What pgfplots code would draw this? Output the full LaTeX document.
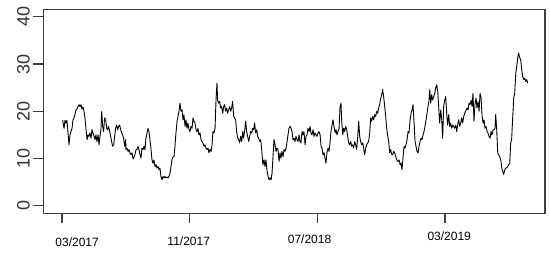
\documentclass[border=0pt]{standalone}
\usepackage{pgfplots}
\pgfplotsset{compat=1.18}
\usepackage{fontspec}
\setmainfont{Liberation Sans}

% x: months since 03/2017, y: value
\pgfplotstableread{
m v
0.04 18.1
0.13 16.4
0.19 18.1
0.25 17.5
0.31 18.1
0.38 15.4
0.44 12.9
0.50 15.0
0.56 15.7
0.63 16.4
0.69 18.2
0.75 18.6
0.81 19.3
0.88 20.3
0.94 20.5
1.00 21.0
1.07 21.4
1.13 21.0
1.19 21.4
1.25 20.5
1.32 20.9
1.38 20.0
1.44 18.6
1.50 16.4
1.57 14.0
1.63 15.0
1.69 14.7
1.75 15.4
1.82 14.3
1.88 16.1
1.94 15.4
2.01 14.7
2.07 14.0
2.13 15.0
2.19 13.6
2.26 15.0
2.32 12.9
2.38 14.7
2.44 16.1
2.49 20.0
2.55 16.8
2.61 15.7
2.67 18.6
2.74 18.2
2.80 16.4
2.86 16.1
2.92 16.8
2.99 15.7
3.05 14.7
3.11 13.6
3.17 12.6
3.24 12.9
3.30 14.7
3.36 16.4
3.43 17.1
3.49 16.1
3.55 16.8
3.61 17.1
3.68 16.1
3.74 15.4
3.80 15.0
3.86 14.3
3.93 12.6
3.99 14.0
4.01 11.9
4.07 12.2
4.14 11.5
4.20 11.9
4.26 11.2
4.32 10.8
4.39 11.2
4.45 9.9
4.51 10.3
4.57 10.8
4.64 11.9
4.70 11.9
4.76 12.6
4.82 11.9
4.89 10.8
4.95 10.1
5.01 12.2
5.08 11.9
5.14 12.6
5.20 11.9
5.26 14.3
5.33 15.4
5.39 16.4
5.45 15.7
5.51 14.0
5.58 11.9
5.64 9.7
5.70 9.0
5.76 9.7
5.83 8.3
5.89 8.7
5.95 8.0
6.02 8.3
6.08 7.6
6.14 8.0
6.20 6.2
6.27 5.5
6.33 6.2
6.39 5.9
6.45 6.2
6.52 5.9
6.58 6.1
6.64 5.9
6.70 6.2
6.77 6.9
6.83 8.3
6.89 9.7
6.95 10.3
7.02 10.4
7.08 12.6
7.14 15.4
7.21 17.9
7.27 18.9
7.33 20.0
7.39 21.7
7.46 20.0
7.52 20.3
7.58 18.2
7.64 19.3
7.71 16.8
7.77 18.2
7.83 16.4
7.89 17.5
7.96 16.1
8.02 15.7
8.08 16.8
8.15 16.4
8.21 18.6
8.27 17.9
8.33 17.5
8.40 16.1
8.46 15.7
8.52 16.4
8.58 15.0
8.65 15.4
8.71 14.0
8.77 13.6
8.83 13.3
8.90 12.6
8.96 12.9
9.02 12.2
9.09 11.9
9.15 12.2
9.21 11.2
9.27 11.9
9.34 11.5
9.40 12.9
9.46 15.7
9.52 15.4
9.59 16.4
9.65 22.4
9.71 26.0
9.75 22.4
9.82 21.7
9.88 22.1
9.94 20.7
10.00 21.0
10.07 19.6
10.13 21.0
10.19 21.4
10.25 20.0
10.32 20.7
10.38 19.6
10.44 20.3
10.51 21.0
10.57 20.0
10.63 20.7
10.69 22.1
10.76 18.9
10.82 18.6
10.88 18.2
10.94 15.7
11.01 14.3
11.07 14.0
11.13 13.3
11.19 14.7
11.26 13.6
11.32 15.7
11.38 14.3
11.45 16.1
11.51 17.9
11.57 15.7
11.63 14.7
11.70 13.6
11.76 14.7
11.82 15.7
11.88 15.4
11.95 16.4
12.01 16.1
12.07 17.5
12.13 15.4
12.20 16.1
12.26 14.7
12.32 14.3
12.39 13.6
12.45 14.0
12.51 11.9
12.59 8.7
12.66 9.7
12.72 8.3
12.78 9.7
12.84 7.6
12.91 6.2
12.97 5.5
13.03 5.9
13.10 5.5
13.16 6.9
13.22 10.4
13.28 14.0
13.35 12.9
13.41 11.5
13.47 12.2
13.53 11.9
13.60 9.4
13.66 11.2
13.72 10.1
13.78 11.5
13.85 10.4
13.91 11.9
13.97 11.5
14.04 12.2
14.10 13.6
14.16 15.0
14.22 16.4
14.29 16.8
14.35 16.4
14.41 15.7
14.47 14.0
14.54 14.3
14.60 13.6
14.66 14.7
14.72 14.0
14.79 13.6
14.85 15.0
14.91 13.6
14.97 13.3
15.04 15.7
15.10 15.0
15.16 15.7
15.23 12.9
15.29 14.7
15.35 15.0
15.41 16.4
15.48 15.7
15.54 16.8
15.60 15.4
15.66 15.0
15.73 16.1
15.79 14.7
15.85 15.4
15.91 15.0
15.98 14.7
16.04 15.4
16.10 15.7
16.17 15.0
16.23 12.6
16.29 12.2
16.35 10.8
16.42 11.2
16.48 10.1
16.54 9.0
16.60 11.2
16.67 12.2
16.73 11.5
16.79 13.3
16.85 15.7
16.92 17.1
16.98 18.2
17.04 16.8
17.11 15.4
17.17 16.1
17.23 15.0
17.29 15.7
17.36 16.4
17.42 21.0
17.48 21.7
17.52 18.2
17.59 15.0
17.65 16.4
17.71 15.7
17.77 16.8
17.84 16.1
17.90 14.7
17.96 13.3
18.02 12.9
18.09 13.6
18.15 12.6
18.21 12.9
18.27 12.2
18.34 13.6
18.40 12.9
18.46 11.9
18.53 14.7
18.59 17.9
18.65 14.7
18.71 13.6
18.78 12.9
18.84 13.3
18.90 12.2
18.96 10.8
19.03 12.2
19.09 12.9
19.15 13.3
19.21 13.6
19.28 15.4
19.34 18.6
19.40 17.9
19.47 18.9
19.53 18.2
19.59 19.3
19.65 18.9
19.72 20.0
19.78 19.6
19.84 20.7
19.90 21.4
19.97 22.8
20.03 23.5
20.09 24.6
20.15 23.1
20.22 21.0
20.28 18.9
20.34 16.4
20.41 14.7
20.47 13.6
20.53 11.2
20.59 11.9
20.66 10.8
20.72 10.8
20.78 11.5
20.84 11.2
20.91 10.4
20.97 9.7
21.03 9.4
21.05 9.4
21.12 9.7
21.18 8.7
21.24 9.0
21.30 7.6
21.37 10.4
21.43 12.6
21.49 12.2
21.55 12.9
21.62 14.0
21.68 15.7
21.74 15.4
21.80 17.9
21.87 19.6
21.93 20.3
21.99 21.4
22.06 17.5
22.12 13.6
22.18 12.6
22.24 11.5
22.31 11.2
22.37 12.6
22.43 13.6
22.49 14.3
22.56 14.0
22.62 15.0
22.68 15.7
22.74 16.8
22.81 18.2
22.87 19.6
22.93 21.0
22.99 22.1
23.04 24.6
23.10 21.7
23.16 23.5
23.22 22.4
23.29 23.1
23.35 23.8
23.41 24.9
23.48 25.6
23.54 24.2
23.60 21.0
23.66 17.5
23.73 20.3
23.79 18.2
23.85 14.3
23.91 21.0
23.98 22.4
24.04 23.1
24.10 19.6
24.16 17.1
24.23 19.3
24.29 16.8
24.35 17.5
24.41 16.4
24.48 17.1
24.54 16.8
24.60 16.4
24.67 17.1
24.73 15.7
24.79 17.1
24.85 18.2
24.92 16.8
24.98 17.5
25.04 18.6
25.10 17.5
25.17 18.9
25.23 19.6
25.29 20.0
25.38 20.7
25.44 20.3
25.50 21.7
25.56 21.4
25.63 22.4
25.69 21.0
25.75 23.8
25.81 17.9
25.88 21.7
25.94 22.8
26.00 20.7
26.07 22.1
26.13 20.0
26.19 23.8
26.25 23.1
26.32 18.9
26.38 17.5
26.44 18.2
26.50 16.4
26.57 16.8
26.63 15.7
26.69 15.4
26.75 14.7
26.82 14.3
26.88 15.7
26.94 15.0
27.01 16.1
27.07 16.1
27.13 16.4
27.17 19.3
27.23 16.4
27.30 11.2
27.36 10.8
27.42 10.4
27.49 9.7
27.55 8.0
27.61 7.3
27.67 6.6
27.74 7.6
27.80 8.0
27.86 8.0
27.92 8.3
27.99 8.7
28.05 9.0
28.11 13.3
28.17 14.0
28.24 18.9
28.30 22.8
28.36 23.8
28.43 28.1
28.49 29.5
28.55 31.3
28.61 32.3
28.68 31.3
28.74 30.9
28.80 28.8
28.86 27.4
28.93 26.7
28.99 27.0
29.05 26.3
29.11 26.7
29.18 26.0
}\series

\begin{document}
\begin{tikzpicture}
\begin{axis}[
  scale only axis,
  width=501.7pt, height=204pt,
  xmin=-1.17, xmax=30.26,
  ymin=-1.6, ymax=41.6,
  axis line style={black!75, line width=1.2pt},
  every tick/.style={black!75, line width=1.2pt},
  tick align=outside,
  major tick length=10pt,
  xtick={0,8,16,24}, xticklabels={},
  ytick={0,10,20,30,40},
  xtick pos=bottom, ytick pos=left,
  /pgf/number format/assume math mode=true,
  yticklabel style={rotate=90, anchor=south, font=\fontsize{18}{20}\selectfont, text=black!80},
  clip=false,
]
\addplot[black, line width=0.9pt, line join=round, no markers] table[x=m, y=v] {\series};
\begin{scope}[every node/.style={anchor=base, font=\fontsize{12}{14}\selectfont, text=black}]
\node at (axis cs:0.95,-8.61) {03/2017};
\node at (axis cs:7.94,-8.40) {11/2017};
\node at (axis cs:15.51,-7.90) {07/2018};
\node at (axis cs:24.26,-7.35) {03/2019};
\end{scope}
\end{axis}
\pgfresetboundingbox
\path[use as bounding box] (current axis.south west) ++(-43.3pt,-39.7pt) rectangle ++(550pt,253pt);
\end{tikzpicture}
\end{document}
